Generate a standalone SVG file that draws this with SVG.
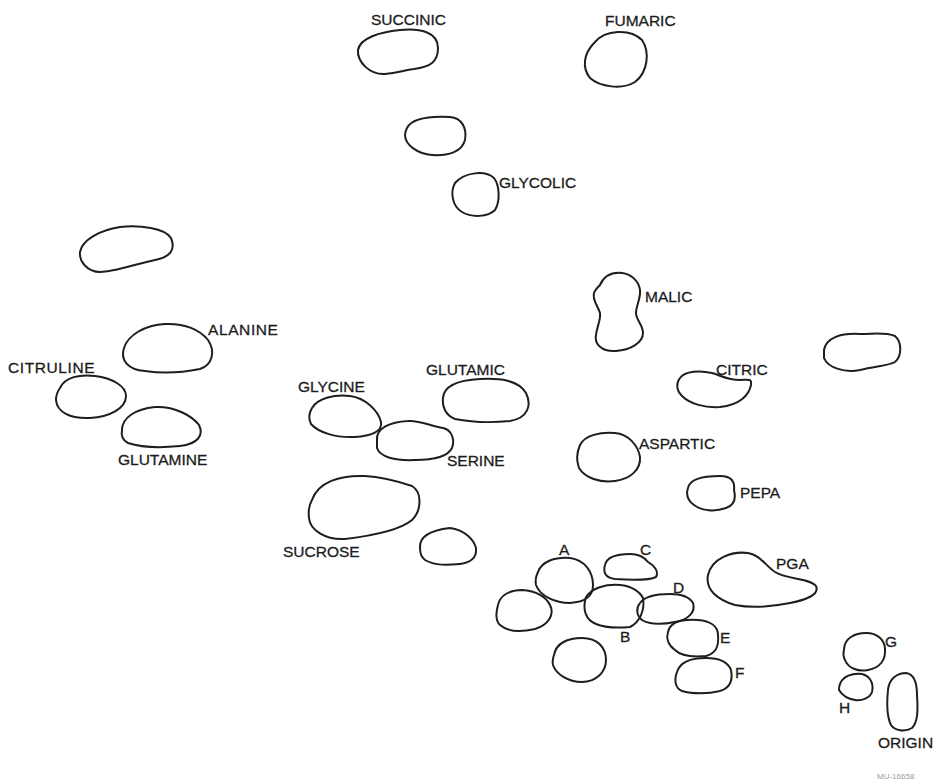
<svg xmlns="http://www.w3.org/2000/svg" width="938" height="784" viewBox="0 0 938 784">
  <style>
    .spot { fill: none; stroke: #1e1e1e; stroke-width: 2; stroke-linejoin: round; }
    .lbl { font-family: "Liberation Sans", Arial, sans-serif; font-size: 15.5px; fill: #1c1c1c; stroke: #1c1c1c; stroke-width: 0.3; }
    .code { font-family: "Liberation Sans", Arial, sans-serif; font-size: 8px; fill: #9a9a9a; }
  </style>
  <rect width="938" height="784" fill="#ffffff"/>

  <g id="succinic">
    <path class="spot" d="M358,50 C360,38 380,32 400,30 C420,28 438,32 438,48 C438,62 430,67 414,69 C404,70 398,73 385,74 C370,75 357,62 358,50 Z"/>
    <text class="lbl" x="371" y="25">SUCCINIC</text>
  </g>
  <g id="fumaric">
    <path class="spot" d="M595,42 C605,30 630,28 642,40 C650,52 648,72 635,82 C622,90 600,87 590,78 C582,68 583,54 595,42 Z"/>
    <text class="lbl" x="605" y="26">FUMARIC</text>
  </g>
  <g id="spot-1">
    <path class="spot" d="M407,128 C412,118 430,116 450,117 C462,118 467,128 465,140 C462,152 448,156 432,155 C418,154 405,145 405,135 C405,132 406,130 407,128 Z"/>
  </g>
  <g id="glycolic">
    <path class="spot" d="M455,183 C465,172 485,170 494,178 C500,186 500,202 495,210 C488,217 472,218 462,212 C452,206 450,192 455,183 Z"/>
    <text class="lbl" x="499" y="188">GLYCOLIC</text>
  </g>
  <g id="spot-2">
    <path class="spot" d="M80,252 C82,240 100,230 120,227 C140,225 165,228 171,238 C176,250 170,257 155,260 C135,264 115,272 100,272 C88,272 79,262 80,252 Z"/>
  </g>
  <g id="alanine">
    <path class="spot" d="M124,348 C128,335 145,325 165,324 C185,323 200,330 208,340 C216,352 212,365 200,369 C185,372 165,374 145,371 C128,370 120,360 124,348 Z"/>
    <text class="lbl" x="208" y="335" letter-spacing="0.6">ALANINE</text>
  </g>
  <g id="citruline">
    <path class="spot" d="M60,388 C65,377 80,374 95,376 C112,378 126,386 126,396 C126,408 110,417 90,418 C70,419 57,412 56,400 C56,395 57,392 60,388 Z"/>
    <text class="lbl" x="8" y="373" letter-spacing="0.6">CITRULINE</text>
  </g>
  <g id="glutamine">
    <path class="spot" d="M122,430 C122,418 135,409 155,407 C175,406 192,416 199,425 C204,435 198,444 180,446 C160,448 140,447 128,443 C122,440 121,435 122,430 Z"/>
    <text class="lbl" x="118" y="465">GLUTAMINE</text>
  </g>
  <g id="glycine">
    <path class="spot" d="M312,408 C318,398 335,394 350,396 C365,398 378,410 381,422 C383,432 370,436 355,437 C335,438 318,432 311,424 C308,418 309,413 312,408 Z"/>
    <text class="lbl" x="298" y="392">GLYCINE</text>
  </g>
  <g id="glutamic">
    <path class="spot" d="M443,398 C444,385 460,380 480,379 C500,378 518,380 526,393 C532,405 528,418 510,421 C490,423 470,422 455,419 C445,415 442,406 443,398 Z"/>
    <text class="lbl" x="426" y="375">GLUTAMIC</text>
  </g>
  <g id="serine">
    <path class="spot" d="M377,440 C376,428 390,422 408,421 C420,420 430,426 443,428 C452,430 455,440 452,448 C448,456 435,460 415,460 C395,461 380,457 377,448 Z"/>
    <text class="lbl" x="447" y="466">SERINE</text>
  </g>
  <g id="sucrose">
    <path class="spot" d="M312,500 C318,482 340,475 365,476 C385,477 400,482 412,486 C422,492 422,510 412,520 C400,530 370,536 345,539 C325,540 310,530 309,518 C308,510 309,505 312,500 Z"/>
    <text class="lbl" x="283" y="557">SUCROSE</text>
  </g>
  <g id="spot-3">
    <path class="spot" d="M420,548 C419,535 432,530 450,528 C465,530 474,540 476,548 C477,558 470,563 460,564 C448,565 435,566 425,560 C421,557 420,553 420,548 Z"/>
  </g>
  <g id="malic">
    <path class="spot" d="M600,285 C604,276 612,272 622,273 C632,274 639,282 640,290 C641,298 636,306 636,313 C636,320 643,325 643,333 C643,343 630,350 616,351 C602,352 594,344 596,335 C597,326 601,320 600,313 C598,306 592,300 594,293 C595,290 597,288 600,285 Z"/>
    <text class="lbl" x="645" y="302">MALIC</text>
  </g>
  <g id="spot-4">
    <path class="spot" d="M824,350 C826,338 840,333 860,334 C875,334 885,332 895,336 C902,342 902,356 895,362 C888,366 875,366 860,370 C845,373 828,368 824,358 Z"/>
  </g>
  <g id="citric">
    <path class="spot" d="M680,378 C685,371 700,370 712,373 C722,376 728,380 740,380 C748,380 752,378 751,385 C749,395 740,405 720,407 C705,408 690,404 682,396 C676,390 676,383 680,378 Z"/>
    <text class="lbl" x="716" y="375">CITRIC</text>
  </g>
  <g id="aspartic">
    <path class="spot" d="M580,445 C585,435 600,432 615,433 C628,434 638,445 640,457 C641,470 630,479 615,481 C600,483 585,478 579,468 C576,460 577,452 580,445 Z"/>
    <text class="lbl" x="639" y="449">ASPARTIC</text>
  </g>
  <g id="pepa">
    <path class="spot" d="M688,488 C690,478 705,476 720,476 C732,476 735,482 734,490 C736,498 735,505 726,508 C715,512 702,511 694,505 C687,500 686,494 688,488 Z"/>
    <text class="lbl" x="740" y="498">PEPA</text>
  </g>
  <g id="spot-a">
    <path class="spot" d="M538,572 C542,561 555,557 570,558 C585,560 593,572 593,585 C593,597 585,602 570,603 C555,603 540,596 536,585 C535,580 536,576 538,572 Z"/>
    <text class="lbl" x="559" y="555">A</text>
  </g>
  <g id="spot-c">
    <path class="spot" d="M605,565 C607,556 618,554 630,554 C640,554 645,558 648,562 C655,566 659,572 656,577 C650,580 630,580 615,579 C605,578 603,572 605,565 Z"/>
    <text class="lbl" x="640" y="555">C</text>
  </g>
  <g id="pga">
    <path class="spot" d="M708,575 C712,558 732,551 748,553 C760,555 765,565 775,572 C788,580 810,578 816,586 C820,595 805,600 790,603 C770,607 750,608 735,605 C718,600 705,590 708,575 Z"/>
    <text class="lbl" x="776" y="569">PGA</text>
  </g>
  <g id="spot-5">
    <path class="spot" d="M498,605 C500,595 510,590 522,590 C535,591 545,595 550,605 C555,615 548,625 535,629 C522,632 508,632 500,625 C495,620 496,612 498,605 Z"/>
  </g>
  <g id="spot-b">
    <path class="spot" d="M586,597 C592,588 605,584 620,585 C632,586 640,592 643,598 C645,610 640,622 630,627 C618,628 605,628 596,624 C586,620 582,610 586,597 Z"/>
    <text class="lbl" x="620" y="642">B</text>
  </g>
  <g id="spot-d">
    <path class="spot" d="M640,603 C645,596 655,594 670,594 C682,594 690,598 693,603 C696,612 688,620 675,622 C665,624 650,625 642,620 C636,615 636,608 640,603 Z"/>
    <text class="lbl" x="673" y="593">D</text>
  </g>
  <g id="spot-e">
    <path class="spot" d="M668,632 C670,622 682,619 698,620 C710,621 718,626 718,635 C719,645 717,653 706,656 C695,657 682,657 675,650 C668,645 666,638 668,632 Z"/>
    <text class="lbl" x="720" y="643">E</text>
  </g>
  <g id="spot-6">
    <path class="spot" d="M554,655 C556,643 568,638 582,638 C598,638 606,648 606,660 C606,672 596,682 582,682 C568,682 556,674 553,665 C552,661 553,658 554,655 Z"/>
  </g>
  <g id="spot-f">
    <path class="spot" d="M677,672 C680,662 692,658 706,658 C720,658 728,662 731,670 C733,680 730,688 720,691 C708,694 692,694 682,691 C675,688 674,680 677,672 Z"/>
    <text class="lbl" x="735" y="678">F</text>
  </g>
  <g id="spot-g">
    <path class="spot" d="M844,650 C844,638 855,633 866,633 C878,633 884,640 885,648 C886,660 880,668 868,670 C858,672 848,668 845,660 C843,656 843,653 844,650 Z"/>
    <text class="lbl" x="885" y="647">G</text>
  </g>
  <g id="spot-h">
    <path class="spot" d="M840,684 C843,676 852,673 862,674 C870,676 874,683 872,692 C870,698 862,701 855,700 C848,699 842,695 839,690 C839,688 839,686 840,684 Z"/>
    <text class="lbl" x="839" y="713">H</text>
  </g>
  <g id="origin">
    <path class="spot" d="M888,690 C889,678 898,673 906,673 C914,674 917,682 917,695 C918,710 918,722 912,728 C905,732 895,731 891,725 C886,715 887,700 888,690 Z"/>
    <text class="lbl" x="878" y="748">ORIGIN</text>
  </g>

  <text class="code" x="877" y="779">MU-16658</text>
</svg>
